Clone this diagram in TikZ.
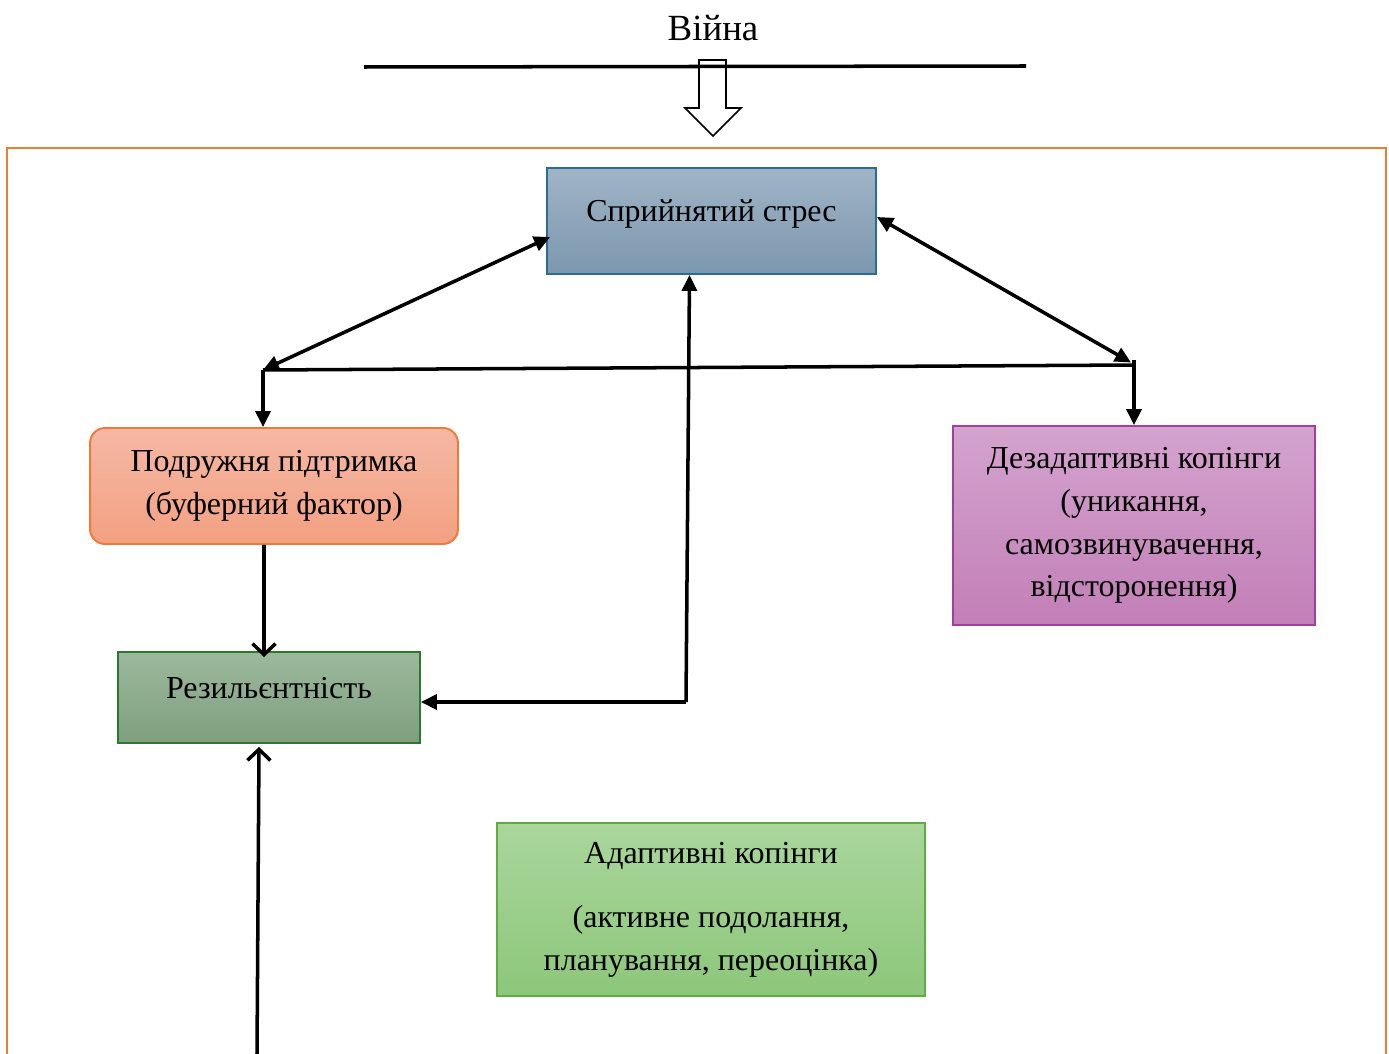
\documentclass[tikz,border=0pt]{standalone}
\usepackage{fontspec}
\setmainfont{Liberation Serif}
\usetikzlibrary{arrows.meta, positioning}

\definecolor{stressT}{HTML}{A0B4C6}
\definecolor{stressB}{HTML}{7C97AE}
\definecolor{stressD}{HTML}{2C6B92}
\definecolor{suppT}{HTML}{F5B8A4}
\definecolor{suppB}{HTML}{F3A082}
\definecolor{suppD}{HTML}{EE7A38}
\definecolor{dezT}{HTML}{D4A3CE}
\definecolor{dezB}{HTML}{C27FB7}
\definecolor{dezD}{HTML}{A0409E}
\definecolor{resT}{HTML}{9DB89D}
\definecolor{resB}{HTML}{7E9F7E}
\definecolor{resD}{HTML}{2A7A2E}
\definecolor{adT}{HTML}{AAD69C}
\definecolor{adB}{HTML}{8CC77A}
\definecolor{adD}{HTML}{5BAE3F}
\definecolor{frameC}{HTML}{ED7D31}

\begin{document}
\begin{tikzpicture}[x=0.02cm, y=-0.02cm,
    box/.style={draw, line width=1.1pt, align=center, inner sep=0pt,
                font=\fontsize{18.2}{24.4}\selectfont},
    conn/.style={line width=2pt},
    tip/.style={-{Triangle[length=3.2mm, width=3mm]}},
    dbl/.style={{Triangle[length=3.2mm, width=3mm]}-{Triangle[length=3.2mm, width=3mm]}},
    barb/.style={-{Straight Barb[length=2.2mm, width=4.6mm]}}]
    \useasboundingbox (0,0) rectangle (1389,1054);

    % Title, bar and hollow arrow
    \node[font=\fontsize{21}{25}\selectfont] (war) at (713,28) {Війна};
    \filldraw[fill=white, draw=black, line width=0.9pt]
        (699,60) -- (726,60) -- (726,108) -- (741,108) -- (713,136) -- (685,108) -- (699,108) -- cycle;
    \coordinate (wl) at (364,67);
    \coordinate (wr) at (1026,66);
    \draw[conn] (wl) -- (wr);

    % Frame
    \draw[frameC, line width=1.3pt] (7,1060) -- (7,148) -- (1386,148) -- (1386,1060);

    % Boxes
    \node[box, top color=stressT, bottom color=stressB, draw=stressD,
          minimum width=6.58cm, minimum height=2.12cm, text height=12pt, text depth=11pt]
          (stress) at (711.5,221) {Сприйнятий стрес};
    \node[box, top color=suppT, bottom color=suppB, draw=suppD, rounded corners=0.3cm,
          minimum width=7.36cm, minimum height=2.32cm]
          (support) at (274,486) {Подружня підтримка\\(буферний фактор)};
    \node[box, top color=dezT, bottom color=dezB, draw=dezD,
          minimum width=7.24cm, minimum height=3.98cm]
          (dezad) at (1134,525.5) {Дезадаптивні копінги\\(уникання,\\самозвинувачення,\\відсторонення)};
    \node[box, top color=resT, bottom color=resB, draw=resD,
          minimum width=6.04cm, minimum height=1.82cm, text height=12pt, text depth=11pt]
          (resil) at (269,697.5) {Резильєнтність};
    \node[box, top color=adT, bottom color=adB, draw=adD,
          minimum width=8.56cm, minimum height=3.46cm]
          (adapt) at (711,909.5) {Адаптивні копінги\\[12pt] (активне подолання,\\планування, переоцінка)};

    % Junctions
    \coordinate (jl) at (263,370);
    \coordinate (jr) at (1134,365);
    \coordinate (jm) at (686,702);
    \coordinate (jb) at (257,1054);

    % Connectors
    \draw[conn, dbl] (jl) -- ([xshift=0.08cm, yshift=-0.32cm]stress.west);
    \draw[conn, dbl] ([yshift=0.08cm]stress.east) -- ([xshift=-0.06cm, yshift=0.05cm]jr);
    \draw[conn] (jl) -- (jr);
    \draw[conn, tip] ([yshift=0.1cm]jr) -- (dezad.north);
    \draw[conn, tip] (jl) -- (jl |- support.north);
    \draw[conn, barb] ([xshift=-0.2cm]support.south) -- ([xshift=-0.1cm, yshift=-0.12cm]resil.north);
    \draw[conn, tip] (jm) -- ([xshift=-0.44cm]stress.south);
    \draw[conn, tip] (jm) -- (resil.east |- jm);
    \draw[conn, barb] (jb) -- ([xshift=-0.2cm, yshift=-0.06cm]resil.south);
\end{tikzpicture}
\end{document}
